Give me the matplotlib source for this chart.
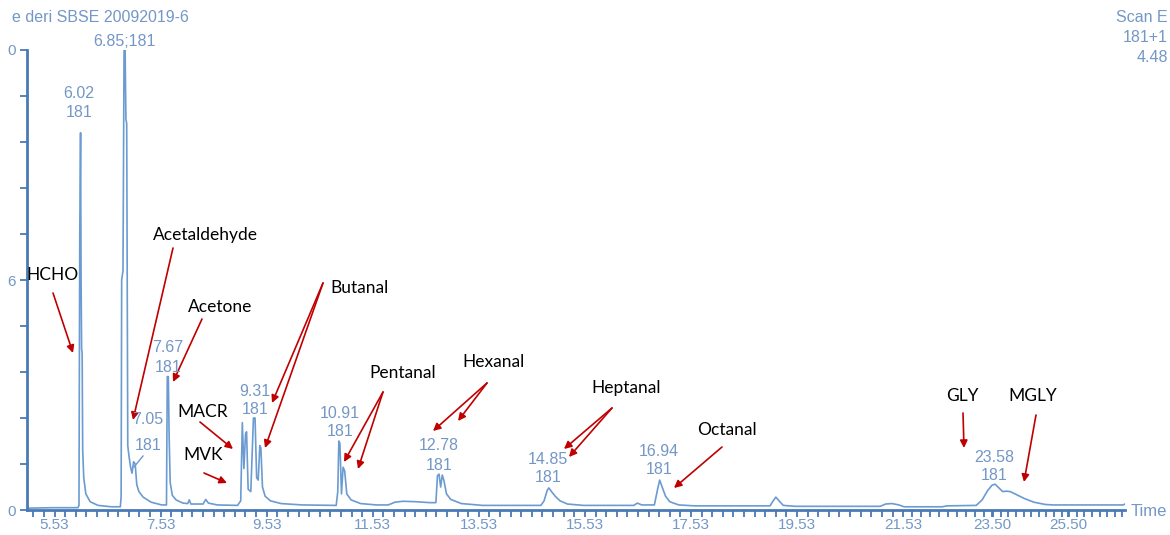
import numpy as np
import matplotlib
matplotlib.use('Agg')
import matplotlib.pyplot as plt
from matplotlib.ticker import FixedLocator

# ── data ─────────────────────────────────────────────────────────────────
# retention time (min) and relative intensity (%) of the trace vertices
rt_trace = [5.01, 5.50, 5.97, 5.99, 6.005, 6.02, 6.03, 6.04, 6.05, 6.06, 6.08, 6.12,
            6.20, 6.35, 6.60, 6.77, 6.785, 6.795, 6.82, 6.84, 6.86, 6.875, 6.89, 6.90,
            6.91, 6.93, 6.96, 6.99, 7.02, 7.05, 7.08, 7.12, 7.20, 7.35, 7.55, 7.64,
            7.655, 7.675, 7.69, 7.71, 7.75, 7.82, 7.95, 8.04, 8.07, 8.10, 8.33, 8.38,
            8.43, 8.60, 8.98, 9.04, 9.07, 9.10, 9.13, 9.15, 9.18, 9.23, 9.28, 9.31,
            9.34, 9.37, 9.40, 9.42, 9.45, 9.50, 9.60, 9.80, 10.20, 10.84, 10.87, 10.89,
            10.91, 10.94, 10.97, 11.00, 11.04, 11.12, 11.30, 11.60, 11.82, 11.95, 12.10, 12.35,
            12.60, 12.72, 12.75, 12.78, 12.81, 12.84, 12.87, 12.92, 13.00, 13.20, 13.60, 14.70,
            14.76, 14.82, 14.85, 14.90, 14.97, 15.06, 15.20, 15.50, 16.45, 16.52, 16.60, 16.84,
            16.90, 16.94, 16.98, 17.05, 17.13, 17.30, 17.60, 19.02, 19.08, 19.13, 19.19, 19.27,
            19.50, 21.10, 21.20, 21.32, 21.45, 21.55, 22.40, 22.50, 23.15, 23.28, 23.40, 23.50,
            23.58, 23.68, 23.78, 23.88, 23.98, 24.15, 24.35, 24.60, 24.90, 25.10, 26.95, 27.00]
signal = [0.4, 0.5, 0.5, 1.0, 60, 82, 50, 35, 34, 13, 7, 3.5,
          1.8, 1.0, 0.7, 0.7, 3, 50, 52, 100, 100, 85, 84, 45,
          14, 12, 9.5, 8, 10.5, 10, 5.5, 4, 2.8, 1.7, 1.1, 1.1,
          29, 29, 16, 6, 3.2, 2.2, 1.5, 1.4, 2.2, 1.3, 1.3, 2.3,
          1.5, 1.1, 1.0, 2, 19, 9, 16.5, 17, 4.5, 4, 20, 20,
          7, 6.5, 14, 13.5, 5, 3, 2, 1.4, 1.1, 1.0, 4, 15,
          14.5, 3.5, 9.3, 8.5, 3.5, 2.2, 1.4, 1.1, 1.1, 1.7, 1.9, 1.8,
          1.6, 1.6, 7.5, 7.8, 5, 7.6, 6.5, 3.5, 2.3, 1.4, 1.0, 1.0,
          2.0, 4.3, 4.8, 4.0, 3.0, 2.0, 1.3, 1.0, 1.0, 1.5, 1.1, 1.1,
          4.5, 6.5, 5.2, 3.0, 1.8, 1.1, 0.9, 0.9, 2.0, 2.8, 2.0, 1.0,
          0.8, 0.8, 1.3, 1.4, 1.1, 0.7, 0.7, 0.9, 1.0, 2.2, 4.2, 5.4,
          5.6, 4.8, 4.0, 4.1, 4.0, 3.3, 2.5, 1.7, 1.2, 1.1, 1.1, 1.3]

# apex labels printed by the software (retention time ; mass 181)
peak_rt = ['6.02', '6.85', '7.05', '7.67', '9.31', '10.91', '12.78', '14.85', '16.94', '23.58']
peak_mass = '181'

# x tick labels as printed on the axis
xtick_vals = [5.53, 7.53, 9.53, 11.53, 13.53, 15.53, 17.53, 19.53, 21.53, 23.50, 25.50]
xtick_text = ['5.53', '7.53', '9.53', '11.53', '13.53', '15.53', '17.53', '19.53',
              '21.53', '23.50', '25.50']
ytick_vals = [0, 50, 100]
ytick_text = ['0', '6', '0']

# compound names
compounds = ['HCHO', 'Acetaldehyde', 'Acetone', 'Butanal', 'MACR', 'MVK',
             'Pentanal', 'Hexanal', 'Heptanal', 'Octanal', 'GLY', 'MGLY']

# ── styling ───────────────────────────────────────────────────────────────
W, H = 1170, 535
TRACE = '#6b9bd1'
AXIS = '#4a7ab5'
LABEL = '#7397c6'
RED = '#c00000'

# the time axis of the screenshot is not linear at the right end
t_anchor = [0.0, 21.53, 23.50, 25.50, 40.0]
p_anchor = [-239.4, 903.0, 992.0, 1068.0, 1619.0]


def fwd(t):
    return np.interp(t, t_anchor, p_anchor)


def inv(p):
    return np.interp(p, p_anchor, t_anchor)


def px(x, y):
    # screenshot pixel (origin top left) -> figure pixels
    return (x, H - y)


fig = plt.figure(figsize=(W / 100, H / 100), dpi=100)
ax = fig.add_axes([27 / W, 25 / H, (1125 - 27) / W, (510 - 50) / H])
ax.set_xscale('function', functions=(fwd, inv))

ax.plot(rt_trace, signal, color=TRACE, lw=1.2, solid_joinstyle='round')
ax.set_xlim(5.01, 27.0)
ax.set_ylim(0, 100)

for s in ['top', 'right']:
    ax.spines[s].set_visible(False)
for s in ['left', 'bottom']:
    ax.spines[s].set_color(AXIS)
    ax.spines[s].set_linewidth(2)

ax.xaxis.set_major_locator(FixedLocator(xtick_vals))
ax.set_xticklabels(xtick_text)
ax.xaxis.set_minor_locator(FixedLocator(np.arange(5.13, 27.0, 0.2)))
ax.yaxis.set_major_locator(FixedLocator(ytick_vals))
ax.set_yticklabels(ytick_text)
ax.yaxis.set_minor_locator(FixedLocator(np.arange(0, 101, 10)))
ax.tick_params(axis='both', which='both', direction='out', color=AXIS, width=1.3,
               labelcolor=LABEL, labelsize=11)
ax.tick_params(axis='x', which='major', length=5, pad=1)
ax.tick_params(axis='x', which='minor', length=5)
ax.tick_params(axis='y', which='major', length=5, pad=3)
ax.tick_params(axis='y', which='minor', length=5)
for lab in ax.get_xticklabels() + ax.get_yticklabels():
    lab.set_family('Liberation Sans')

fig.text(1131 / W, 1 - 511 / H, 'Time', color=LABEL, fontsize=12,
         family='Liberation Sans', va='center', ha='left')

# header texts of the software window
fig.text(12 / W, 1 - 18 / H, 'e deri SBSE 20092019-6', color=LABEL, fontsize=11.5,
         family='Liberation Sans', va='center', ha='left')
for txt, y in [('Scan E', 18), ('181+1', 38), ('4.48', 58)]:
    fig.text(1168 / W, 1 - y / H, txt, color=LABEL, fontsize=11.5,
             family='Liberation Sans', va='center', ha='right')

# apex labels
apex_pos = [(79, 94, 112), None, (148, 419, 445), (168, 348, 367), (255, 391, 409),
            (340, 413, 432), (439, 445, 465), (548, 460, 478), (659, 451, 469),
            (994, 458, 476)]
for rt, pos in zip(peak_rt, apex_pos):
    if pos is None:
        continue
    x, y1, y2 = pos
    fig.text(x / W, 1 - y1 / H, rt, color=LABEL, fontsize=11.5,
             family='Liberation Sans', ha='center', va='center')
    fig.text(x / W, 1 - y2 / H, peak_mass, color=LABEL, fontsize=11.5,
             family='Liberation Sans', ha='center', va='center')
fig.text(124 / W, 1 - 42 / H, peak_rt[1] + ';' + peak_mass, color=LABEL, fontsize=11.5,
         family='Liberation Sans', ha='center', va='center')
# small leader from the 7.05 label to its peak
fig.add_artist(plt.Line2D([143 / W, 134 / W], [1 - 456 / H, 1 - 467 / H],
                          color=TRACE, lw=1))

# compound names with red arrows
name_pos = {
    'HCHO': (53, 275), 'Acetaldehyde': (205, 235), 'Acetone': (220, 307),
    'Butanal': (360, 288), 'MACR': (203, 412), 'MVK': (203, 455),
    'Pentanal': (403, 373), 'Hexanal': (493, 362), 'Heptanal': (626, 388),
    'Octanal': (727, 430), 'GLY': (962, 396), 'MGLY': (1033, 396),
}
arrows = {
    'HCHO': [((53, 293), (73, 353))],
    'Acetaldehyde': [((173, 248), (133, 420))],
    'Acetone': [((202, 319), (173, 382))],
    'Butanal': [((323, 283), (272, 403)), ((323, 283), (265, 448))],
    'MACR': [((200, 422), (233, 449))],
    'MVK': [((204, 473), (227, 483))],
    'Pentanal': [((383, 392), (344, 462)), ((383, 392), (358, 469))],
    'Hexanal': [((487, 383), (433, 431)), ((487, 383), (458, 421))],
    'Heptanal': [((612, 408), (564, 449)), ((612, 408), (569, 457))],
    'Octanal': [((722, 447), (674, 488))],
    'GLY': [((963, 413), (964, 448))],
    'MGLY': [((1036, 415), (1024, 482))],
}
for name in compounds:
    x, y = name_pos[name]
    fig.text(x / W, 1 - y / H, name, color='black', fontsize=12.5, family='Lato',
             ha='center', va='center')
    for tail, head in arrows[name]:
        ax.annotate('', xy=px(*head), xycoords='figure pixels',
                    xytext=px(*tail), textcoords='figure pixels',
                    arrowprops=dict(arrowstyle='-|>', color=RED, lw=1.2,
                                    mutation_scale=11, shrinkA=0, shrinkB=0))

fig.savefig('out.png', dpi=100)
